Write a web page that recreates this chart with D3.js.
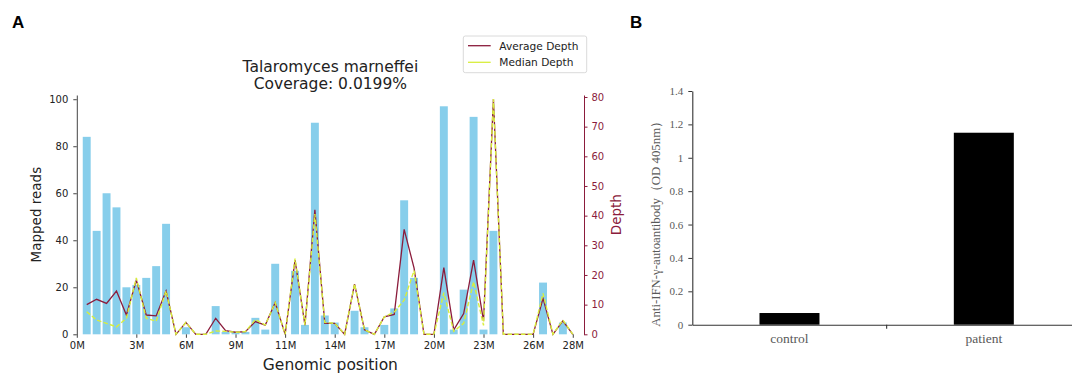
<!DOCTYPE html>
<html>
<head>
<meta charset="utf-8">
<script src="https://cdn.jsdelivr.net/npm/d3@7"></script>
<style>
  body { margin: 0; background: #fff; }
  svg { display: block; }
</style>
</head>
<body>
<div id="chart"></div>
<script>
// ---- panel A : coverage along the genome (50 bins) ----
const binIndex = d3.range(1, 51);
const mappedReads = [84, 44, 60, 54, 20, 21, 24, 29, 47, 0,
  3, 0, 0, 12, 1, 1, 1, 7, 2, 30,
  0, 27, 4, 90, 8, 5, 0, 10, 3, 0,
  4, 11, 57, 24, 0, 0, 97, 2, 19, 92.5,
  2, 44, 0, 0, 0, 0, 22, 0, 5, 0];
const averageDepth = [10, 11.8, 10.4, 14.6, 6.5, 18.3, 6.5, 6.2, 14.6, 0,
  4, 0, 0, 5.4, 1.2, 0.7, 0.9, 4.3, 3.1, 10.7,
  0, 25, 3.1, 42, 3.7, 3.7, 0, 16.9, 1.5, 0,
  5.9, 6.7, 35.4, 22.3, 0, 0, 22.5, 1.5, 7, 25,
  4.5, 79.3, 0, 0, 0, 0, 12.1, 0, 4.5, 0];
const medianDepth = [7.6, 4.8, 3.7, 2.5, 5.4, 19, 5.4, 4.4, 14.6, 0,
  4, 0, 0, 1.1, 1, 0.7, 0.9, 5, 3.1, 10.7,
  0, 25.5, 3.1, 40.5, 4, 3.7, 0, 17, 1.5, 0,
  5.9, 7.5, 11.5, 21.5, 0, 0, 14, 1, 3.7, 17.7,
  3, 79.3, 0, 0, 0, 0, 13.8, 0, 4.8, 0];
const xTickPos = [0, 6, 11, 16, 21, 26, 31, 36, 41, 46, 50];
const xTickLabels = ["0M", "3M", "6M", "9M", "11M", "14M", "17M", "20M", "23M", "26M", "28M"];
const readTicks = [0, 20, 40, 60, 80, 100];
const depthTicks = [0, 10, 20, 30, 40, 50, 60, 70, 80];

// ---- panel B : ELISA ----
const groups = ["control", "patient"];
const odValues = [0.07, 1.15];
const odTicks = [0, 0.2, 0.4, 0.6, 0.8, 1, 1.2, 1.4];

const W = 1072, H = 374;
const maroon = "#8b1c3c";
const median = "#d8ee3c";
const sans = "'DejaVu Sans', sans-serif";
const serif = "'Liberation Serif', 'Times New Roman', serif";

const svg = d3.select("#chart").append("svg")
  .attr("width", W).attr("height", H);

// panel letters
svg.append("text").attr("x", 12).attr("y", 27.5).text("A")
  .attr("font-family", "'Liberation Sans', Arial, sans-serif").attr("font-weight", "bold").attr("font-size", 17);
svg.append("text").attr("x", 630).attr("y", 27.5).text("B")
  .attr("font-family", "'Liberation Sans', Arial, sans-serif").attr("font-weight", "bold").attr("font-size", 17);

// ================= A =================
let a = { left: 76.8, right: 584, top: 95, bottom: 334.3 };

let x = d3.scaleLinear().domain([0, 51.13]).range([a.left, a.right]);
let yReads = d3.scaleLinear().domain([0, 101.8]).range([a.bottom, a.top]);
let yDepth = d3.scaleLinear().domain([0, 80.67]).range([a.bottom, a.top]);

let gA = svg.append("g");

gA.selectAll("rect.bin")
  .data(binIndex)
  .enter().append("rect")
  .attr("class", "bin")
  .attr("x", (d) => x(d - 0.4))
  .attr("width", x(0.8) - x(0))
  .attr("y", (d, i) => yReads(mappedReads[i]))
  .attr("height", (d, i) => a.bottom - yReads(mappedReads[i]))
  .attr("fill", "#87ceeb");

let avgLine = d3.line().x((d) => x(d)).y((d, i) => yDepth(averageDepth[i]));
let medLine = d3.line().x((d) => x(d)).y((d, i) => yDepth(medianDepth[i]));

gA.append("path").datum(binIndex).attr("d", avgLine)
  .attr("fill", "none").attr("stroke", maroon).attr("stroke-width", 1.3);
gA.append("path").datum(binIndex).attr("d", medLine)
  .attr("fill", "none").attr("stroke", median).attr("stroke-width", 1.4)
  .attr("stroke-dasharray", "4.5,2.2");

// left axis
let leftAxis = gA.append("g")
  .attr("transform", `translate(${a.left},0)`)
  .call(d3.axisLeft(yReads).tickValues(readTicks).tickSize(3.5).tickSizeOuter(0).tickPadding(5));
leftAxis.select(".domain").attr("stroke", "#444");
leftAxis.selectAll(".tick line").attr("stroke", "#444");
leftAxis.selectAll("text").attr("font-family", sans).attr("font-size", 10).attr("fill", "#222");

// right axis
let rightAxis = gA.append("g")
  .attr("transform", `translate(${a.right},0)`)
  .call(d3.axisRight(yDepth).tickValues(depthTicks).tickSize(3.5).tickSizeOuter(0).tickPadding(4));
rightAxis.select(".domain").attr("stroke", maroon);
rightAxis.selectAll(".tick line").attr("stroke", maroon);
rightAxis.selectAll("text").attr("font-family", sans).attr("font-size", 10).attr("fill", maroon);

// bottom axis (no spine)
let bottomAxis = gA.append("g")
  .attr("transform", `translate(0,${a.bottom})`)
  .call(d3.axisBottom(x).tickValues(xTickPos).tickFormat((d, i) => xTickLabels[i])
    .tickSize(3.5).tickPadding(4));
bottomAxis.select(".domain").remove();
bottomAxis.selectAll(".tick line").attr("stroke", "#444");
bottomAxis.selectAll("text").attr("font-family", sans).attr("font-size", 10).attr("fill", "#222");

// titles and labels
let midA = (a.left + a.right) / 2;
gA.append("text").attr("x", midA).attr("y", 71.5).attr("text-anchor", "middle")
  .attr("font-family", sans).attr("font-size", 15.5).attr("fill", "#222").text("Talaromyces marneffei");
gA.append("text").attr("x", midA).attr("y", 88.5).attr("text-anchor", "middle")
  .attr("font-family", sans).attr("font-size", 15.5).attr("fill", "#222").text("Coverage: 0.0199%");
gA.append("text").attr("x", midA).attr("y", 370).attr("text-anchor", "middle")
  .attr("font-family", sans).attr("font-size", 15.5).attr("fill", "#222").text("Genomic position");
gA.append("text")
  .attr("transform", `translate(41,${(a.top + a.bottom) / 2}) rotate(-90)`)
  .attr("text-anchor", "middle").attr("font-family", sans).attr("font-size", 13.5).attr("fill", "#222")
  .text("Mapped reads");
gA.append("text")
  .attr("transform", `translate(621,${(a.top + a.bottom) / 2}) rotate(-90)`)
  .attr("text-anchor", "middle").attr("font-family", sans).attr("font-size", 13.5).attr("fill", maroon)
  .text("Depth");

// legend
let lg = gA.append("g").attr("transform", "translate(463.3,36)");
lg.append("rect").attr("width", 123.4).attr("height", 36.7).attr("rx", 2)
  .attr("fill", "#fff").attr("stroke", "#d0d0d0").attr("stroke-width", 0.8);
let legendItems = [
  { name: "Average Depth", color: maroon },
  { name: "Median Depth", color: median }
];
legendItems.forEach((it, i) => {
  let yy = 9.7 + i * 16.6;
  lg.append("line").attr("x1", 4.7).attr("x2", 27.4).attr("y1", yy).attr("y2", yy)
    .attr("stroke", it.color).attr("stroke-width", 1.3);
  lg.append("text").attr("x", 36).attr("y", yy + 3.8)
    .attr("font-family", sans).attr("font-size", 10.6).attr("fill", "#222").text(it.name);
});

// ================= B =================
let b = { left: 692.3, right: 1081, top: 91, bottom: 324.7 };
let xb = d3.scaleBand().domain(groups).range([b.left, b.right]);
let yb = d3.scaleLinear().domain([0, 1.4]).range([b.bottom, b.top]);
let barW = 60;

let gB = svg.append("g");

gB.selectAll("rect.od")
  .data(groups)
  .enter().append("rect")
  .attr("class", "od")
  .attr("x", (d) => xb(d) + xb.bandwidth() / 2 - barW / 2)
  .attr("width", barW)
  .attr("y", (d, i) => yb(odValues[i]))
  .attr("height", (d, i) => b.bottom - yb(odValues[i]))
  .attr("fill", "#000");

let yAxisB = gB.append("g")
  .attr("transform", `translate(${b.left},0)`)
  .call(d3.axisLeft(yb).tickValues(odTicks).tickFormat(d3.format("~g")).tickSize(4).tickSizeOuter(0).tickPadding(5));
yAxisB.select(".domain").attr("stroke", "#333").attr("stroke-width", 1.1);
yAxisB.selectAll(".tick line").attr("stroke", "#333");
yAxisB.selectAll("text").attr("font-family", serif).attr("font-size", 11).attr("fill", "#595959");

let xAxisB = gB.append("g")
  .attr("transform", `translate(0,${b.bottom})`)
  .call(d3.axisBottom(xb).tickSize(0).tickPadding(9));
xAxisB.select(".domain").attr("stroke", "#333").attr("stroke-width", 1.1);
xAxisB.selectAll("text").attr("font-family", serif).attr("font-size", 13.5).attr("fill", "#595959");
// category dividers
gB.selectAll("line.div")
  .data(groups.slice(1))
  .enter().append("line")
  .attr("class", "div")
  .attr("x1", (d) => xb(d)).attr("x2", (d) => xb(d))
  .attr("y1", b.bottom).attr("y2", b.bottom + 4)
  .attr("stroke", "#333").attr("stroke-width", 1.1);

gB.append("text")
  .attr("transform", `translate(659.5,${(b.top + b.bottom) / 2 + 13}) rotate(-90)`)
  .attr("text-anchor", "middle").attr("font-family", serif).attr("font-size", 12.8).attr("fill", "#595959")
  .text("Anti-IFN-γ-autoantibody（OD 405nm）");
</script>
</body>
</html>
